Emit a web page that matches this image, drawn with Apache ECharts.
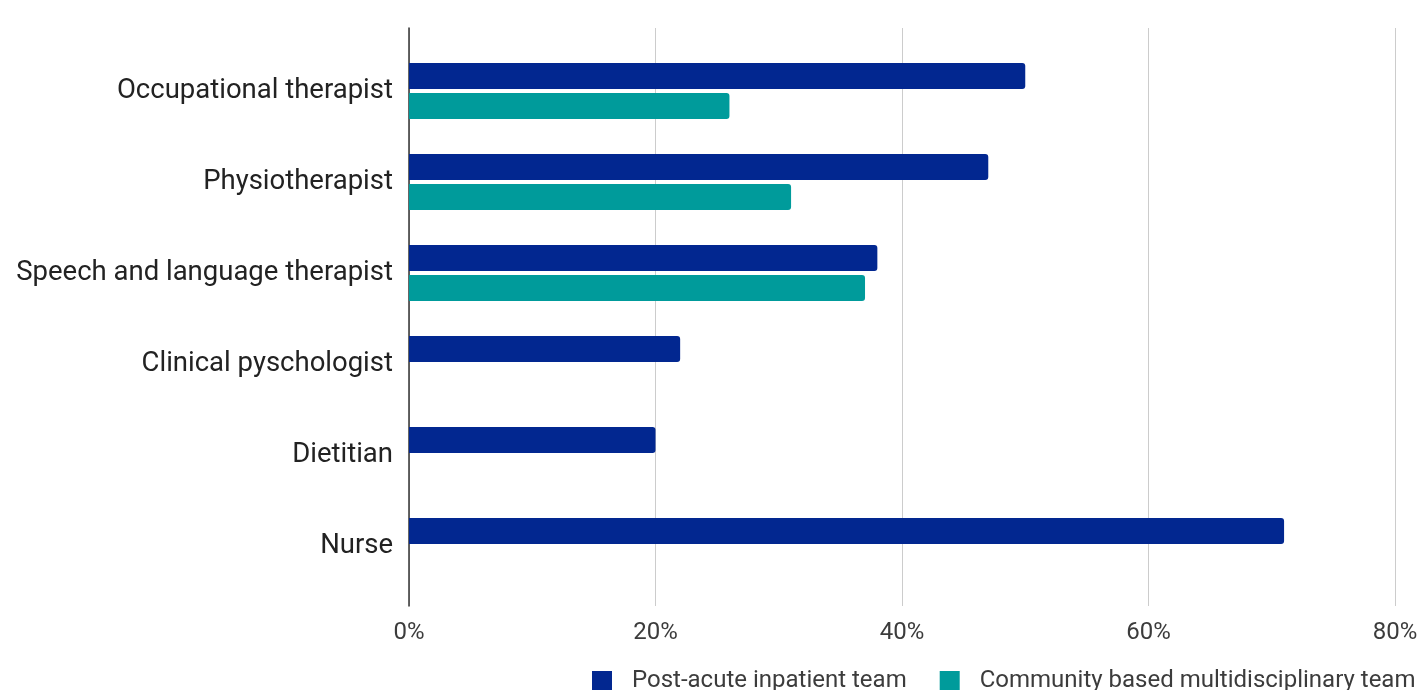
<!DOCTYPE html>
<html>
<head>
<meta charset="utf-8">
<script src="https://cdn.jsdelivr.net/npm/echarts@6/dist/echarts.min.js"></script>
<style>html,body{margin:0;padding:0;background:#fff;}#c{width:1423px;height:690px;}</style>
</head>
<body>
<div id="c"></div>
<script>
const categories = ["Occupational therapist", "Physiotherapist", "Speech and language therapist", "Clinical pyschologist", "Dietitian", "Nurse"];
const seriesNames = ["Post-acute inpatient team", "Community based multidisciplinary team"];
const inpatient = [0.50, 0.47, 0.38, 0.22, 0.20, 0.71];
const community = [0.26, 0.31, 0.37, null, null, null];
const xTicks = { min: 0, max: 0.8, interval: 0.2 };
const colors = ["#022790", "#009b9b"];

const chart = echarts.init(document.getElementById('c'), null, { renderer: 'canvas' });
chart.setOption({
  animation: false,
  color: colors,
  textStyle: { fontFamily: 'Roboto' },
  grid: [
    { left: 409, right: 28, top: 28, bottom: 84 },
    { left: 409, right: 28, top: 45.5, bottom: 98.5 }
  ],
  legend: {
    data: seriesNames,
    left: 592, top: 669,
    padding: 0,
    itemWidth: 20, itemHeight: 20,
    itemGap: 33,
    icon: 'rect',
    textStyle: { fontFamily: 'Roboto', fontSize: 24, color: '#3c3c3c', padding: [4, 0, 0, 15] }
  },
  xAxis: [
    {
      gridIndex: 0, type: 'value', min: xTicks.min, max: xTicks.max, interval: xTicks.interval,
      axisLine: { show: false }, axisTick: { show: false },
      splitLine: { show: true, lineStyle: { color: '#cccccc', width: 1 } },
      axisLabel: { fontFamily: 'Roboto', fontSize: 24, color: '#3c3c3c', margin: 15,
        formatter: v => Math.round(v * 100) + '%' }
    },
    {
      gridIndex: 1, type: 'value', min: xTicks.min, max: xTicks.max, interval: xTicks.interval,
      show: false
    }
  ],
  yAxis: [
    {
      gridIndex: 0, type: 'category', data: categories, inverse: true,
      axisLine: { show: true, lineStyle: { color: '#333333', width: 1.5 } },
      axisTick: { show: false }, axisLabel: { show: false }, splitLine: { show: false }
    },
    {
      gridIndex: 1, type: 'category', data: categories, inverse: true,
      axisLine: { show: false }, axisTick: { show: false }, splitLine: { show: false },
      axisLabel: { fontFamily: 'Roboto', fontSize: 27.5, color: '#222222', margin: 16, padding: [5, 0, 0, 0] }
    }
  ],
  series: [
    {
      name: seriesNames[0], type: 'bar', xAxisIndex: 1, yAxisIndex: 1,
      data: inpatient, barWidth: 26, barGap: '15%',
      itemStyle: { borderRadius: [0, 3, 3, 0] }
    },
    {
      name: seriesNames[1], type: 'bar', xAxisIndex: 1, yAxisIndex: 1,
      data: community, barWidth: 26, barGap: '15%',
      itemStyle: { borderRadius: [0, 3, 3, 0] }
    }
  ]
});
</script>
</body>
</html>
